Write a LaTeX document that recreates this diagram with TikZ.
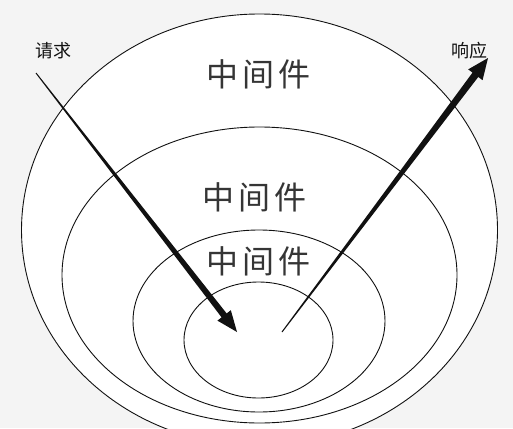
\documentclass[tikz,border=0pt]{standalone}
\usepackage{fontspec}
\newfontfamily\cjk{Noto Sans CJK SC}
\usetikzlibrary{calc,shapes.geometric}
\definecolor{bg}{HTML}{F4F4F4}
\definecolor{ink}{HTML}{111111}
\tikzset{
  layer/.style={draw=ink, line width=0.9pt, ellipse, inner sep=0pt, fill=white},
  big/.style={font=\cjk\fontsize{32}{32}\selectfont, text=ink!85, inner sep=0pt},
  small/.style={font=\cjk\fontsize{18}{18}\selectfont, text=ink, inner sep=0pt},
}
\begin{document}
\begin{tikzpicture}[x=1pt,y=-1pt]
\useasboundingbox (0,0) rectangle (513,428);
\fill[bg] (0,0) rectangle (513,428);
\node[layer, minimum width=476pt, minimum height=432pt] (l1) at (259.5,230) {};
\node[layer, minimum width=395pt, minimum height=296pt] (l2) at (259.5,275) {};
\node[layer, minimum width=252pt, minimum height=182pt] (l3) at (259,321) {};
\node[layer, minimum width=149pt, minimum height=116pt] (l4) at (258.5,340) {};
\node[big] (t1) at (258,74) {中\hspace{4pt}间\hspace{4pt}件};
\node[big] (t2) at (254,197) {中\hspace{4pt}间\hspace{4pt}件};
\node[big] (t3) at (258,261) {中\hspace{4pt}间\hspace{4pt}件};
\node[small] (req) at (53,51) {请求};
\node[small] (resp) at (469,51) {响应};
% request arrow
\coordinate (ra) at (36,73);
\coordinate (rt) at (237,332);
\coordinate (rh) at ($(rt)!21pt!(ra)$);
\fill[ink] ($(ra)!0.5pt!90:(rt)$) -- ($(rh)!3.2pt!90:(rt)$) -- ($(rh)!8.5pt!90:(rt)$) -- (rt)
  -- ($(rh)!8.5pt!-90:(rt)$) -- ($(rh)!3.2pt!-90:(rt)$) -- ($(ra)!0.5pt!-90:(rt)$) -- cycle;
% response arrow
\coordinate (sa) at (282,332);
\coordinate (st) at (488,58);
\coordinate (sh) at ($(st)!21pt!(sa)$);
\fill[ink] ($(sa)!0.5pt!90:(st)$) -- ($(sh)!3.6pt!90:(st)$) -- ($(sh)!9pt!90:(st)$) -- (st)
  -- ($(sh)!9pt!-90:(st)$) -- ($(sh)!3.6pt!-90:(st)$) -- ($(sa)!0.5pt!-90:(st)$) -- cycle;
\end{tikzpicture}
\end{document}
